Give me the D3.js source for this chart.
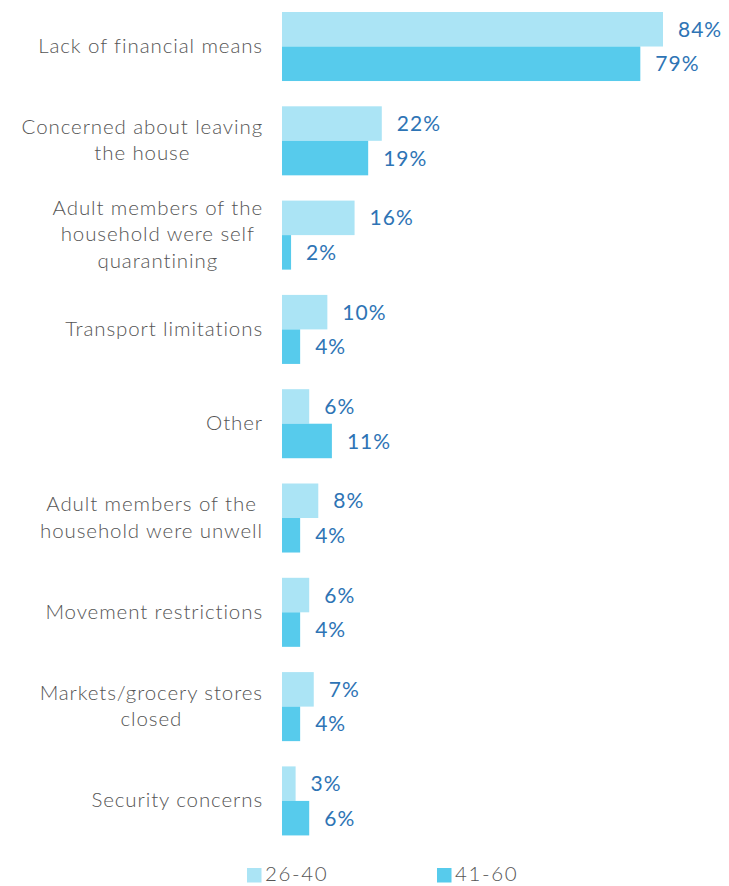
<!DOCTYPE html>
<html>
<head>
<meta charset="utf-8">
<script src="https://cdn.jsdelivr.net/npm/d3@7"></script>
<style>
  html, body { margin: 0; padding: 0; background: #fff; }
  svg { display: block; font-family: Lato, "Open Sans", sans-serif; }
</style>
</head>
<body>
<svg id="chart" width="729" height="886"></svg>
<script>
// Reasons for not accessing food, by age group
const categories = [
  ["Lack of financial means"],
  ["Concerned about leaving", "the house"],
  ["Adult members of the", "household were self", "quarantining"],
  ["Transport limitations"],
  ["Other"],
  ["Adult members of the", "household were unwell"],
  ["Movement restrictions"],
  ["Markets/grocery stores", "closed"],
  ["Security concerns"]
];
const seriesNames = ["26-40", "41-60"];
const values2640 = [84, 22, 16, 10, 6, 8, 6, 7, 3];
const values4160 = [79, 19, 2, 4, 11, 4, 4, 4, 6];
const seriesColors = ["#abe4f5", "#57cbec"];

const svg = d3.select("#chart");
const plotLeft = 282, plotTop = 12, groupStep = 94.3, padIn = 0.268;
const labelRight = 263;

const x = d3.scaleLinear().domain([0, 84]).range([plotLeft, plotLeft + 381]);
const y = d3.scaleBand()
  .domain(d3.range(categories.length))
  .range([plotTop, plotTop + groupStep * (categories.length - padIn)])
  .paddingInner(padIn).paddingOuter(0);
const sub = d3.scaleBand().domain([0, 1]).range([0, y.bandwidth()]);

const rows = categories.map((c, i) => ({ lines: c, vals: [values2640[i], values4160[i]] }));

const g = svg.selectAll("g.cat").data(rows).join("g")
  .attr("class", "cat")
  .attr("transform", (d, i) => `translate(0,${y(i)})`);

g.selectAll("rect").data(d => d.vals).join("rect")
  .attr("x", x(0))
  .attr("y", (v, j) => sub(j))
  .attr("width", v => x(v) - x(0))
  .attr("height", sub.bandwidth())
  .attr("fill", (v, j) => seriesColors[j]);

g.selectAll("text.val").data(d => d.vals).join("text")
  .attr("class", "val")
  .attr("x", v => x(v) + 15)
  .attr("y", (v, j) => sub(j) + sub.bandwidth() / 2)
  .attr("dy", "0.36em")
  .attr("font-size", 21)
  .attr("letter-spacing", 1)
  .attr("fill", "#2e74b5")
  .text(v => v + "%");

// Category labels: the block is right-aligned, its lines centred within it
g.each(function(d) {
  const n = d.lines.length;
  const lh = 26.5;
  const cy = y.bandwidth() / 2 - 1;
  const t = d3.select(this).append("text")
    .attr("text-anchor", "middle")
    .attr("font-size", 20.5)
    .attr("font-weight", 300)
    .attr("letter-spacing", 0.9)
    .attr("fill", "#555555");
  const spans = t.selectAll("tspan").data(d.lines).join("tspan")
    .attr("y", (s, k) => cy + (k - (n - 1) / 2) * lh)
    .attr("dy", "0.36em")
    .text(s => s);
  const maxW = d3.max(spans.nodes(), node => node.getComputedTextLength());
  spans.attr("x", labelRight - maxW / 2);
});

// Legend
const legendX = [247, 437];
const lg = svg.selectAll("g.legend").data(seriesNames).join("g")
  .attr("class", "legend")
  .attr("transform", (d, i) => `translate(${legendX[i]},875)`);
lg.append("rect").attr("x", 0).attr("y", -7).attr("width", 14.5).attr("height", 14.5)
  .attr("fill", (d, i) => seriesColors[i]);
lg.append("text").attr("x", 18).attr("y", -1).attr("dy", "0.36em")
  .attr("font-size", 20.5).attr("font-weight", 300).attr("letter-spacing", 1.6)
  .attr("fill", "#555555").text(d => d);
</script>
</body>
</html>
